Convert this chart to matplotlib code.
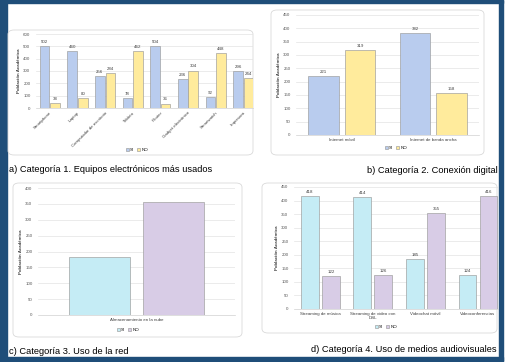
import numpy as np
import matplotlib
matplotlib.use("Agg")
import matplotlib.pyplot as plt
from matplotlib.patches import FancyBboxPatch, Rectangle

W, H = 512, 362

# a) Equipos electrónicos
cat_a = ["Smartphone", "Laptop", "Computador de escritorio", "Tableta", "Router",
         "Gadget electrónico", "Smartwatch", "Impresora"]
si_a = [502, 460, 256, 78, 504, 236, 92, 296]
no_a = [38, 80, 284, 462, 36, 304, 448, 244]

# b) Conexión digital
cat_b = ["Internet móvil", "Internet de banda ancha"]
si_b = [221, 382]
no_b = [319, 158]

# c) Uso de la red
cat_c = ["Almacenamiento en la nube"]
si_c = [183]
no_c = [355]

# d) Uso de medios audiovisuales
cat_d = ["Streaming de música", "Streaming de video con\nDSL", "Videochat móvil", "Videoconferencias"]
si_d = [418, 414, 185, 124]
no_d = [122, 126, 355, 416]

BLUE, YELLOW = "#B9CCEE", "#FFEB9C"
CYAN, LAVENDER = "#C5ECF5", "#D8CCE6"
FRAME = "#1F4E79"

plt.rcParams["font.family"] = ["Liberation Sans", "DejaVu Sans"]

fig = plt.figure(figsize=(W / 100, H / 100), dpi=100)


def rect(x0, y0, x1, y1):
    return [x0 / W, 1 - y1 / H, (x1 - x0) / W, (y1 - y0) / H]


# blue frame
for x0, y0, x1, y1 in [(0, 0, 503, 3), (0, 357, 503, 361), (0, 0, 7, 361), (499, 0, 503, 361)]:
    fig.patches.append(Rectangle((x0 / W, 1 - y1 / H), (x1 - x0) / W, (y1 - y0) / H,
                                 transform=fig.transFigure, color=FRAME, zorder=-2))

# panel boxes
for x0, y0, x1, y1 in [(8, 30, 253, 155), (271, 10, 484, 155), (13, 183, 242, 337), (262, 183, 497, 333)]:
    fig.patches.append(FancyBboxPatch((x0 / W, 1 - y1 / H), (x1 - x0) / W, (y1 - y0) / H,
                                      boxstyle="round,pad=0,rounding_size=0.012",
                                      transform=fig.transFigure, facecolor="white",
                                      edgecolor="#D9D9D9", lw=0.6, zorder=-1))


def panel(box, cats, si, no, ymax, step, c1, c2, width, off, labels=True, rot=0,
          xright=None, lab_fs=3.2, ypad=1.5):
    ax = fig.add_axes(rect(*box))
    ax.patch.set_alpha(0)
    x = np.arange(len(cats))
    b1 = ax.bar(x - off, si, width, color=c1, edgecolor="#9A9A9A", lw=0.45, label="SI", zorder=2)
    b2 = ax.bar(x + off, no, width, color=c2, edgecolor="#9A9A9A", lw=0.45, label="NO", zorder=2)
    if labels:
        ax.bar_label(b1, padding=1.5, fontsize=3.2, color="#404040")
        ax.bar_label(b2, padding=1.5, fontsize=3.2, color="#404040")
    ax.set_ylim(0, ymax)
    ax.set_yticks(np.arange(0, ymax + 1, step))
    ax.set_xlim(-0.5, xright if xright is not None else len(cats) - 0.5)
    ax.set_xticks(x)
    if rot:
        ax.set_xticklabels(cats, rotation=rot, ha="right", rotation_mode="anchor", fontsize=lab_fs)
    else:
        ax.set_xticklabels(cats, fontsize=lab_fs)
    ax.tick_params(axis="y", labelsize=3.2, length=0, pad=4, colors="#595959")
    ax.tick_params(axis="x", length=0, pad=2, colors="#404040")
    ax.grid(axis="y", color="#E3E3E3", lw=0.5, zorder=0)
    for s in ["top", "right", "left"]:
        ax.spines[s].set_visible(False)
    ax.spines["bottom"].set_color("#D0D0D0")
    ax.spines["bottom"].set_linewidth(0.5)
    ax.set_ylabel("Población Académica", fontsize=3.2, labelpad=ypad, fontweight="bold",
                  color="#404040")
    return ax


ax_a = panel((36, 34, 253, 108), cat_a, si_a, no_a, 600, 100, BLUE, YELLOW, 0.35, 0.19,
             rot=45, xright=7.35)
ax_b = panel((296, 15, 479, 135), cat_b, si_b, no_b, 450, 50, BLUE, YELLOW, 0.33, 0.2)
ax_c = panel((38, 188, 235, 315), cat_c, si_c, no_c, 400, 50, CYAN, LAVENDER, 0.31, 0.19,
             labels=False)
ax_d = panel((294, 187, 498, 309), cat_d, si_d, no_d, 450, 50, CYAN, LAVENDER, 0.34, 0.2,
             xright=3.38)

# legends
for ax, (cx, cy) in [(ax_a, (137, 150)), (ax_b, (396, 148)), (ax_c, (128, 330)), (ax_d, (386, 327))]:
    ax.legend(loc="center", bbox_to_anchor=(cx / W, 1 - cy / H), bbox_transform=fig.transFigure,
              ncol=2, fontsize=3.2, frameon=False, handlelength=0.6, handleheight=0.6,
              handletextpad=0.3, columnspacing=0.8)

# captions
fig.text(9 / W, 1 - 170 / H, "a) Categoría 1. Equipos electrónicos más usados",
         fontsize=6.7, va="center", ha="left")
fig.text(498 / W, 1 - 171 / H, "b) Categoría 2. Conexión digital",
         fontsize=6.7, va="center", ha="right")
fig.text(9 / W, 1 - 352 / H, "c) Categoría 3. Uso de la red",
         fontsize=6.7, va="center", ha="left")
fig.text(497 / W, 1 - 350 / H, "d) Categoría 4. Uso de medios audiovisuales",
         fontsize=6.7, va="center", ha="right")

fig.savefig("out.png", dpi=100)
